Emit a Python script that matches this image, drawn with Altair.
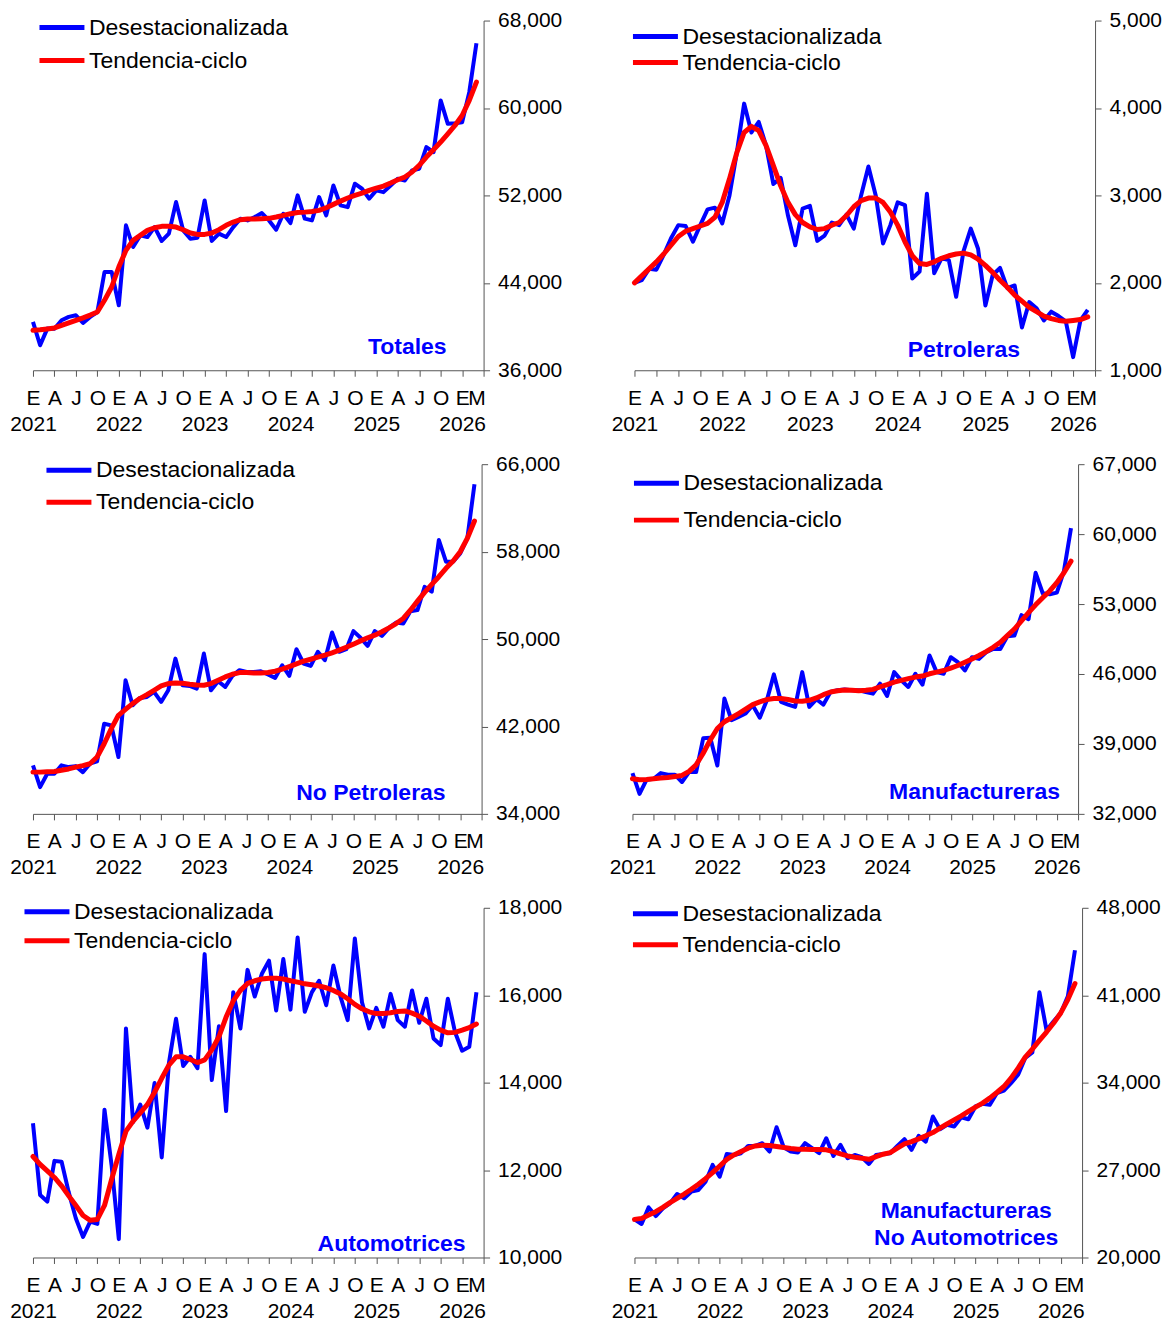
import altair as alt
import pandas as pd

# ---------------- data ----------------
MONTHS = list(range(63))                      # Jan-2021 .. Mar-2026
TICK_VALUES = list(range(0, 61, 3)) + [62, 63]
QUARTER_LETTERS = ["E", "A", "J", "O"]
YEARS = ["2021", "2022", "2023", "2024", "2025", "2026"]
LAST_LABEL = "M"
SERIES = ["Desestacionalizada", "Tendencia-ciclo"]
COLORS = ["#0000FF", "#FF0000"]

tot_des = [40420, 38290, 39810, 39800, 40570, 40880, 41030, 40330, 40880, 41330,
           44990, 45000, 41940, 49260, 47280, 48340, 48190, 49100, 47830, 48500,
           51390, 48800, 48040, 48130, 51540, 47830, 48500, 48190, 49100, 49870,
           49710, 50020, 50380, 49710, 48860, 50320, 49470, 52000, 49870, 49710,
           51850, 50170, 52910, 51090, 50930, 53070, 52610, 51700, 52460, 52300,
           52910, 53520, 53370, 54290, 54440, 56420, 55960, 60690, 58550, 58610,
           58700, 61450, 65930]
tot_tc = [39660, 39700, 39780, 39870, 40100, 40330, 40570, 40800, 41050, 41330,
          42400, 43620, 45450, 46970, 47890, 48340, 48800, 49040, 49170, 49170,
          49100, 48860, 48560, 48430, 48430, 48560, 48860, 49260, 49560, 49780,
          49840, 49840, 49870, 49900, 50020, 50170, 50320, 50440, 50470, 50530,
          50630, 50870, 51180, 51480, 51760, 52000, 52210, 52460, 52670, 52850,
          53130, 53430, 53680, 54140, 54740, 55510, 56180, 56880, 57640, 58400,
          59310, 60690, 62360]

pet_des = [2000, 2030, 2160, 2150, 2320, 2510, 2660, 2650, 2470, 2660,
           2840, 2860, 2680, 3000, 3490, 4050, 3720, 3840, 3570, 3130,
           3200, 2770, 2430, 2850, 2880, 2480, 2540, 2690, 2660, 2780,
           2620, 3000, 3330, 3000, 2450, 2660, 2920, 2890, 2050, 2130,
           3020, 2110, 2280, 2260, 1840, 2360, 2620, 2390, 1740, 2090,
           2170, 1940, 1970, 1490, 1780, 1710, 1570, 1670, 1620, 1560,
           1150, 1570, 1690]
pet_tc = [2000, 2080, 2160, 2240, 2330, 2430, 2530, 2590, 2620, 2650,
          2680, 2750, 2920, 3190, 3490, 3720, 3790, 3740, 3570, 3340,
          3110, 2920, 2780, 2690, 2640, 2610, 2620, 2660, 2690, 2770,
          2870, 2940, 2970, 2970, 2920, 2810, 2660, 2470, 2310, 2220,
          2210, 2240, 2280, 2310, 2330, 2340, 2320, 2270, 2200, 2120,
          2030, 1950, 1860, 1790, 1720, 1670, 1620, 1590, 1570, 1560,
          1570, 1580, 1610]

nop_des = [38440, 36450, 37670, 37670, 38440, 38280, 38370, 37820, 38590, 38800,
           42250, 42100, 39200, 46230, 43940, 44610, 44700, 45160, 44240, 45310,
           48210, 45770, 45710, 45460, 48670, 45310, 46140, 45620, 46630, 47150,
           46990, 46990, 47050, 46750, 46440, 47600, 46630, 49070, 47760, 47540,
           48830, 48070, 50600, 48830, 49070, 50720, 50110, 49380, 50720, 50290,
           51020, 51510, 51420, 52550, 52650, 54780, 54330, 59060, 57080, 57080,
           57840, 59220, 64170]
nop_tc = [37820, 37820, 37850, 37880, 37990, 38110, 38280, 38420, 38590, 39200,
          40420, 41800, 43020, 43570, 44090, 44550, 44910, 45310, 45710, 45920,
          45980, 45950, 45860, 45800, 45770, 45920, 46230, 46530, 46780, 46930,
          46930, 46900, 46900, 46930, 47050, 47240, 47480, 47730, 47970, 48150,
          48340, 48520, 48740, 48980, 49250, 49530, 49830, 50110, 50350, 50660,
          51020, 51420, 51880, 52640, 53470, 54270, 55000, 55700, 56470, 57140,
          57990, 59220, 60800]

man_des = [36080, 34000, 35420, 35520, 36080, 35920, 35920, 35190, 36180, 36180,
           39560, 39630, 36840, 43540, 41380, 41710, 42040, 42870, 41620, 43370,
           45960, 43210, 42940, 42710, 46190, 42710, 43470, 42940, 44200, 44370,
           44460, 44370, 44370, 44200, 44030, 45030, 43800, 46190, 45360, 44700,
           46020, 44930, 47850, 46190, 46020, 47680, 47180, 46350, 47680, 47510,
           48180, 48510, 48510, 49770, 49840, 51890, 51490, 56130, 54080, 53980,
           54140, 56300, 60600]
man_tc = [35520, 35420, 35450, 35520, 35580, 35650, 35750, 35850, 36250, 36910,
          38070, 39400, 40550, 41220, 41620, 42040, 42480, 42940, 43210, 43440,
          43540, 43540, 43440, 43300, 43270, 43370, 43600, 43930, 44200, 44330,
          44400, 44370, 44330, 44370, 44460, 44700, 44930, 45190, 45360, 45530,
          45690, 45790, 46020, 46190, 46350, 46590, 46850, 47180, 47510, 47850,
          48240, 48670, 49170, 49840, 50500, 51320, 52150, 52920, 53640, 54310,
          55140, 56130, 57290]

aut_des = [13070, 11430, 11280, 12210, 12190, 11490, 10890, 10470, 10820, 10770,
           13380, 12100, 10420, 15240, 13100, 13500, 12970, 13990, 12290, 14440,
           15460, 14380, 14590, 14330, 16940, 14060, 15290, 13350, 16070, 15240,
           16580, 15970, 16490, 16790, 15650, 16830, 15670, 17320, 15620, 16070,
           16330, 15770, 16680, 15960, 15430, 17300, 15840, 15240, 15710, 15280,
           16030, 15430, 15280, 16110, 15370, 15920, 15010, 14860, 15920, 15160,
           14730, 14820, 16070]
aut_tc = [12310, 12130, 11980, 11830, 11640, 11410, 11190, 10960, 10850, 10870,
          11190, 11790, 12360, 12890, 13120, 13310, 13500, 13780, 14100, 14400,
          14590, 14590, 14530, 14460, 14520, 14750, 15050, 15500, 15870, 16110,
          16270, 16330, 16370, 16390, 16390, 16370, 16330, 16300, 16260, 16240,
          16210, 16170, 16110, 16030, 15920, 15790, 15690, 15620, 15580, 15580,
          15600, 15630, 15640, 15590, 15520, 15410, 15290, 15200, 15140, 15150,
          15200, 15260, 15340]

mna_des = [23050, 22680, 24010, 23320, 23930, 24330, 25080, 24740, 25270, 25400,
           26070, 27410, 26470, 28290, 28210, 28350, 28930, 28930, 29150, 28480,
           30430, 28830, 28480, 28400, 29150, 28750, 28350, 29550, 28130, 29010,
           27950, 28210, 28030, 27490, 28210, 28290, 28350, 28930, 29470, 28610,
           29740, 29280, 31290, 30270, 30620, 30490, 31230, 31070, 32090, 32300,
           32220, 33160, 33370, 33960, 34630, 35970, 36420, 41230, 38190, 38910,
           39580, 40910, 44600]
mna_tc = [23050, 23130, 23400, 23670, 24010, 24390, 24740, 25080, 25460, 25860,
          26310, 26790, 27330, 27860, 28210, 28480, 28750, 28930, 28990, 28960,
          28880, 28800, 28720, 28670, 28670, 28650, 28640, 28620, 28480, 28290,
          28130, 28030, 27950, 27860, 28080, 28270, 28400, 28750, 29100, 29280,
          29500, 29740, 30000, 30350, 30700, 31020, 31340, 31690, 32040, 32360,
          32760, 33210, 33690, 34360, 35160, 36050, 36690, 37380, 38050, 38770,
          39580, 40650, 41930]

# ---------------- styling ----------------
FONT = "Liberation Sans"
AXIS_COLOR = "#555555"
PLOT_H = 350
TICK_FS = 21


def x_label_expr():
    parts = []
    for v in TICK_VALUES:
        if v == 63:
            lab = "''"
        elif v == 62:
            lab = "'" + LAST_LABEL + "'"
        elif v % 12 == 0:
            lab = "['" + QUARTER_LETTERS[0] + "', '" + YEARS[v // 12] + "']"
        else:
            lab = "'" + QUARTER_LETTERS[(v % 12) // 3] + "'"
        parts.append((v, lab))
    expr = "''"
    for v, lab in reversed(parts):
        expr = "datum.value == %d ? %s : (%s)" % (v, lab, expr)
    return expr


LABEL_EXPR = x_label_expr()


def panel(des, tc, ymin, ymax, ystep, width, title, tx, ty, talign,
          lx, ly, lgap):
    df_des = pd.DataFrame({"mes": MONTHS, "valor": des, "serie": SERIES[0]})
    df_tc = pd.DataFrame({"mes": MONTHS, "valor": tc, "serie": SERIES[1]})

    x = alt.X("mes:Q",
              scale=alt.Scale(domain=[0, 63], nice=False, zero=False),
              axis=alt.Axis(values=TICK_VALUES, labelExpr=LABEL_EXPR, title=None,
                            grid=False, labelOverlap=False, labelFlush=False,
                            labelBound=False, tickSize=6, labelPadding=11,
                            labelLineHeight=26, labelFontSize=TICK_FS, labelFont=FONT,
                            labelColor="black", labelAngle=0, labelAlign="center",
                            labelBaseline="top", domainColor=AXIS_COLOR,
                            tickColor=AXIS_COLOR,
                            tickOpacity={"condition": {"test": "datum.value == 62",
                                                       "value": 0},
                                         "value": 1}))
    y = alt.Y("valor:Q",
              scale=alt.Scale(domain=[ymin, ymax], nice=False, zero=False),
              axis=alt.Axis(orient="right", values=list(range(ymin, ymax + 1, ystep)),
                            format=",d", title=None, grid=False, tickSize=6,
                            labelPadding=8, labelFontSize=TICK_FS, labelFont=FONT,
                            labelColor="black", domainColor=AXIS_COLOR,
                            tickColor=AXIS_COLOR))
    color = alt.Color("serie:N",
                      scale=alt.Scale(domain=SERIES, range=COLORS),
                      legend=alt.Legend(title=None, orient="none", legendX=lx,
                                        legendY=ly, symbolType="stroke",
                                        symbolSize=2025, symbolStrokeWidth=5,
                                        clipHeight=20, rowPadding=max(lgap - 23, 0),
                                        labelFontSize=23, labelFont=FONT,
                                        labelColor="black", labelOffset=2,
                                        labelLimit=400,
                                        padding=0, direction="vertical"))

    blue = alt.Chart(df_des).mark_line(strokeWidth=4, strokeJoin="round").encode(
        x=x, y=y, color=color)
    red = alt.Chart(df_tc).mark_line(strokeWidth=5, strokeJoin="round",
                                     strokeCap="round").encode(x=x, y=y, color=color)
    label = alt.Chart(pd.DataFrame({"k": [0]})).mark_text(
        font=FONT, fontSize=23, fontWeight="bold", color="#0000FF",
        align=talign, baseline="middle", lineHeight=28).encode(
        x=alt.value(tx), y=alt.value(ty), text=alt.value(title))
    return alt.layer(blue, red, label).properties(width=width, height=PLOT_H)


p1 = panel(tot_des, tot_tc, 36000, 68000, 8000, 451, "Totales", 414, 327, "right", 4, -3, 33)
p2 = panel(pet_des, pet_tc, 1000, 5000, 1000, 461, "Petroleras", 386, 330, "right", -4, 6, 26)
p3 = panel(nop_des, nop_tc, 34000, 66000, 8000, 449, "No Petroleras", 413, 329, "right", 11, -4, 32)
p4 = panel(man_des, man_tc, 32000, 67000, 7000, 446, "Manufactureras", 428, 328, "right", -1, 9, 37)
p5 = panel(aut_des, aut_tc, 10000, 18000, 2000, 451, "Automotrices", 433, 337, "right", -11, -6, 29)
p6 = panel(mna_des, mna_tc, 20000, 48000, 7000, 448,
           ["Manufactureras", "No Automotrices"], 332, 303, "center", -4, -4, 31)


def row(a, b):
    return (alt.hconcat(a, b, spacing=48)
            .resolve_scale(color="independent")
            .resolve_legend(color="independent"))


chart = (alt.vconcat(row(p1, p2), row(p3, p4), row(p5, p6), spacing=19)
         .resolve_scale(color="independent")
         .resolve_legend(color="independent")
         .properties(padding={"left": 1, "top": 1, "right": 0, "bottom": 0},
                     background="white")
         .configure_view(strokeWidth=0))

chart.save("out.html", embed_options={"renderer": "svg", "actions": False})
